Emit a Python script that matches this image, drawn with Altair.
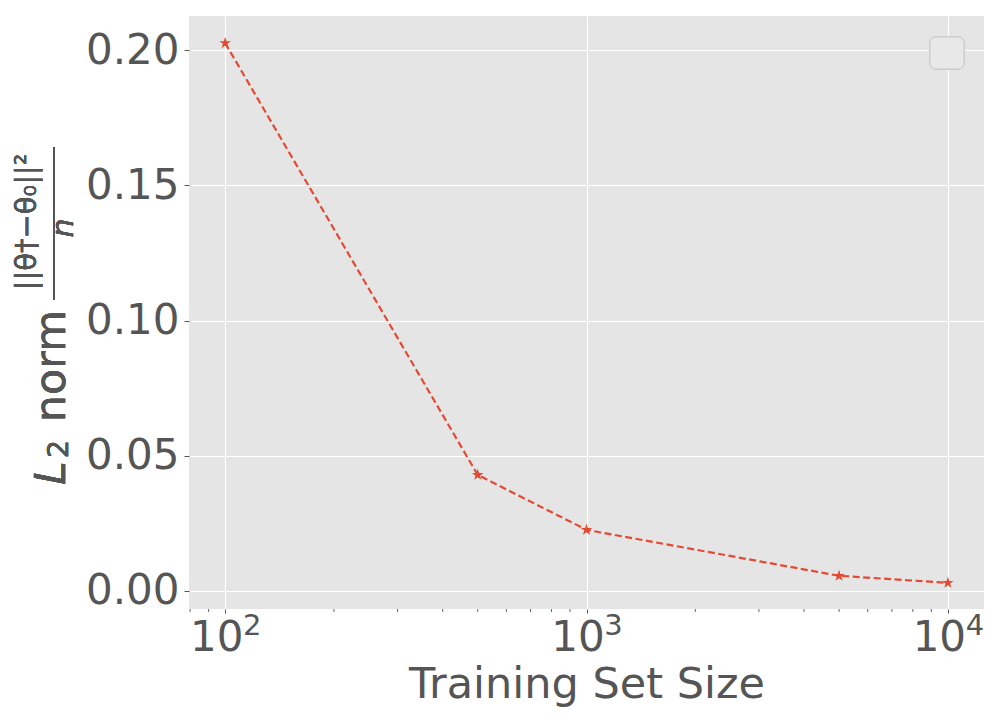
import altair as alt
import pandas as pd

# data
train_size = [100, 500, 1000, 5000, 10000]
l2_norm = [0.2026, 0.0429, 0.0226, 0.0056, 0.0030]
x_major = [100, 1000, 10000]
x_exponents = ["2", "3", "4"]
x_minor = [80, 90, 200, 300, 400, 500, 600, 700, 800, 900,
           2000, 3000, 4000, 5000, 6000, 7000, 8000, 9000]
y_ticks = [0.0, 0.05, 0.10, 0.15, 0.20]

df = pd.DataFrame({"n": train_size, "l2": l2_norm})
minor_df = pd.DataFrame({"n": x_minor})
exp_df = pd.DataFrame({"n": x_major, "e": x_exponents})

W, H = 795, 593
TXT = "#555555"
RED = "#E24A33"
FONT = "DejaVu Sans"
STAR = ("M0,-1L0.2245,-0.309L0.951,-0.309L0.363,0.118L0.588,0.809L0,0.382"
        "L-0.588,0.809L-0.363,0.118L-0.951,-0.309L-0.2245,-0.309Z")

xscale = alt.Scale(type="log", domain=[79.43, 12589], nice=False)
yscale = alt.Scale(domain=[-0.00668, 0.2126], nice=False, zero=False)

x_axis = alt.Axis(
    values=x_major,
    labelExpr="'10'",
    labelOffset=-9,
    title="Training Set Size",
    titleFontSize=43, titleFont=FONT, titleColor=TXT, titleFontWeight="normal",
    titleBaseline="alphabetic", titleY=88,
    labelFontSize=42, labelFont=FONT, labelColor=TXT, labelPadding=4,
    tickSize=4, tickColor=TXT, domain=False,
    grid=True, gridColor="white", gridWidth=1.2,
)
y_axis = alt.Axis(
    values=y_ticks, format=".2f", title=None,
    labelFontSize=42, labelFont=FONT, labelColor=TXT, labelPadding=5,
    tickSize=5, tickColor=TXT, domain=False,
    grid=True, gridColor="white", gridWidth=1.2,
)

base = alt.Chart(df)

line = base.mark_line(
    color=RED, strokeWidth=2.2, strokeDash=[7, 3.5]
).encode(
    x=alt.X("n:Q", scale=xscale, axis=x_axis),
    y=alt.Y("l2:Q", scale=yscale, axis=y_axis),
)
pts = base.mark_point(
    shape=STAR, filled=True, color=RED, size=150, opacity=1
).encode(x=alt.X("n:Q", scale=xscale), y=alt.Y("l2:Q", scale=yscale))

minor = alt.Chart(minor_df).mark_rule(color=TXT, strokeWidth=0.9).encode(
    x=alt.X("n:Q", scale=xscale),
    y=alt.value(H), y2=alt.value(H + 3),
)

# superscript exponents of x tick labels
exps = alt.Chart(exp_df).mark_text(
    align="center", baseline="alphabetic", dx=27,
    font=FONT, fontSize=29, color=TXT
).encode(
    x=alt.X("n:Q", scale=xscale),
    y=alt.value(H + 26),
    text="e:N",
)

# empty legend box
legend = base.mark_rect(
    fill="#E8E8E8", stroke="#CCCCCC", strokeWidth=1, cornerRadius=6
).encode(
    x=alt.value(741), x2=alt.value(775), y=alt.value(21), y2=alt.value(53)
)

# y-axis title pieces (rotated)
def rtext(t, x, y, size, style="normal"):
    return base.mark_text(
        text=t, angle=270, align="center", baseline="alphabetic",
        font=FONT, fontSize=size, fontStyle=style, color=TXT
    ).encode(x=alt.value(x), y=alt.value(y))

t_L = rtext("L", -124, 457, 43, "italic")
t_2 = rtext("2", -121, 433, 29)
t_norm = rtext("norm", -124, 350, 43)
t_num = rtext("||θ†−θ₀||²", -153, 206, 29)
t_den = rtext("n", -116, 212, 30, "italic")
bar = base.mark_rule(color=TXT, strokeWidth=1.5).encode(
    x=alt.value(-135), y=alt.value(131), y2=alt.value(284)
)

chart = alt.layer(
    line, pts, minor, exps, legend, t_L, t_2, t_norm, t_num, t_den, bar
).properties(
    width=W, height=H,
    background="white",
    autosize=alt.AutoSizeParams(type="none"),
    padding={"left": 181, "top": 8, "right": 8, "bottom": 104},
).configure_view(
    fill="#E5E5E5", strokeWidth=0
)

chart.save("out.html", embed_options={"renderer": "svg", "actions": False})
